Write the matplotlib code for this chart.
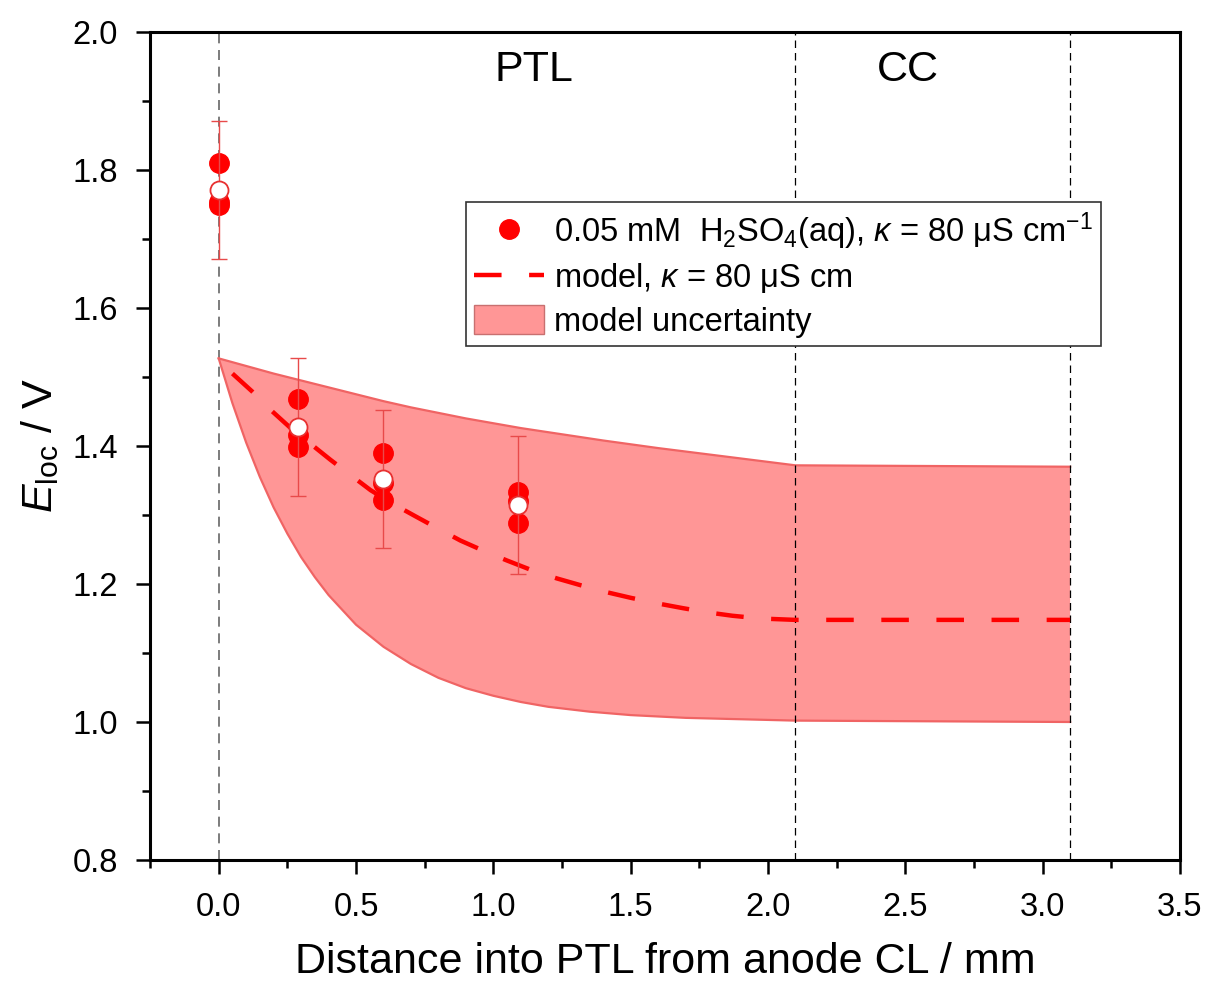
import numpy as np
import matplotlib
matplotlib.use("Agg")
import matplotlib.pyplot as plt
from matplotlib.lines import Line2D
from matplotlib.patches import Patch

plt.rcParams['font.family'] = ['Liberation Sans', 'DejaVu Sans']
plt.rcParams['mathtext.fontset'] = 'custom'
plt.rcParams['mathtext.rm'] = 'Liberation Sans'
plt.rcParams['mathtext.it'] = 'Liberation Sans:italic'

# mesures (3 series) + moyenne
x_meas = [0.0, 0.29, 0.6, 1.09]
run1 = [1.810, 1.468, 1.390, 1.334]
run2 = [1.750, 1.399, 1.322, 1.288]
run3 = [1.753, 1.416, 1.346, 1.320]
mean = [1.771, 1.428, 1.352, 1.314]
err = [0.1, 0.1, 0.1, 0.1]

# modele
x_model = [0.05, 0.122, 0.19, 0.262, 0.335, 0.407, 0.48, 0.553, 0.635, 0.717, 0.80,
           0.880, 0.965, 1.050, 1.14, 1.232, 1.32, 1.414, 1.50, 1.596, 1.69, 1.778,
           1.87, 1.972, 2.10, 3.10]
y_model = [1.505, 1.479, 1.452, 1.426, 1.403, 1.380, 1.358, 1.336, 1.316, 1.298, 1.280,
           1.263, 1.248, 1.234, 1.220, 1.208, 1.198, 1.188, 1.180, 1.172, 1.165, 1.159,
           1.154, 1.150, 1.148, 1.148]

# incertitude du modele
x_up = [0.0, 0.1, 0.2, 0.3, 0.4, 0.5, 0.6, 0.7, 0.8, 0.9, 1.0, 1.1, 1.2, 1.3, 1.4,
        1.6, 1.8, 2.0, 2.1, 3.1]
y_up = [1.527, 1.516, 1.505, 1.495, 1.485, 1.475, 1.465, 1.456, 1.448, 1.440, 1.433,
        1.426, 1.420, 1.414, 1.408, 1.397, 1.387, 1.377, 1.372, 1.370]
x_low = [0.0, 0.05, 0.1, 0.15, 0.2, 0.25, 0.3, 0.35, 0.4, 0.5, 0.6, 0.7, 0.8, 0.9,
         1.0, 1.1, 1.2, 1.35, 1.5, 1.7, 1.9, 2.1, 3.1]
y_low = [1.527, 1.462, 1.405, 1.355, 1.311, 1.273, 1.239, 1.210, 1.184, 1.141, 1.109,
         1.084, 1.064, 1.049, 1.038, 1.029, 1.022, 1.015, 1.010, 1.006, 1.004, 1.002,
         1.000]

fig = plt.figure(figsize=(12.09, 9.86), dpi=100)
ax = fig.add_axes([0.1241, 0.1278, 0.8519, 0.8397])

fill_col = '#ff9696'
edge_col = '#f06464'
red = '#ff0000'

# bande : bord haut + bord bas (retour)
band_x = x_up + x_low[::-1]
band_y = y_up + y_low[::-1]
ax.fill(band_x, band_y, facecolor=fill_col, edgecolor='none', zorder=1)
ax.plot(x_up, y_up, color=edge_col, lw=1.6, zorder=2)
ax.plot(x_low, y_low, color=edge_col, lw=1.6, zorder=2)

# lignes verticales
ax.axvline(0.0, color='#666666', lw=1.2, ls=(0, (6, 4)), zorder=0)
ax.axvline(2.1, color='black', lw=0.9, ls=(0, (6, 4)), zorder=3)
ax.axvline(3.1, color='black', lw=0.9, ls=(0, (6, 4)), zorder=3)

ax.plot(x_model, y_model, color=red, lw=3.2, ls=(0, (6.2, 6.2)), zorder=4)

for r in [run1, run2, run3]:
    ax.plot(x_meas, r, 'o', ms=14, color=red, mec=red, zorder=5)
ax.errorbar(x_meas, mean, yerr=err, fmt='none', ecolor='#e84a4a', elinewidth=1.0,
            capsize=6, capthick=1.0, zorder=6)
ax.plot(x_meas, mean, 'o', ms=13, mfc='white', mec='#e83030', mew=1.3, zorder=7)

ax.text(1.146, 1.945, 'PTL', fontsize=31, ha='center', va='center')
ax.text(2.51, 1.945, 'CC', fontsize=31, ha='center', va='center')

ax.set_xlim(-0.25, 3.5)
ax.set_ylim(0.8, 2.0)
ax.set_xticks(np.arange(0, 3.51, 0.5))
ax.set_xticks(np.arange(-0.25, 3.51, 0.25), minor=True)
ax.set_yticks(np.arange(0.8, 2.01, 0.2))
ax.set_yticks(np.arange(0.8, 2.01, 0.1), minor=True)
ax.xaxis.set_major_formatter(matplotlib.ticker.FormatStrFormatter('%.1f'))
ax.yaxis.set_major_formatter(matplotlib.ticker.FormatStrFormatter('%.1f'))
ax.tick_params(which='major', direction='out', length=10, width=1.8, labelsize=23.5, pad=13)
ax.tick_params(which='minor', direction='out', length=6, width=1.8)
for s in ax.spines.values():
    s.set_linewidth(2.2)

ax.set_xlabel('Distance into PTL from anode CL / mm', fontsize=31, labelpad=14)
ax.set_ylabel(r'$E_{\mathrm{loc}}$ / V', fontsize=31, labelpad=8)

handles = [
    Line2D([], [], marker='o', ls='none', ms=14, color=red),
    Line2D([], [], color=red, lw=3.2, ls=(0, (6.2, 6.2))),
    Patch(facecolor=fill_col, edgecolor='#c87070', lw=1.0),
]
labels = [
    r'0.05 mM  H$_2$SO$_4$(aq), $\kappa$ = 80 $\mathrm{\mu}$S cm$^{-1}$',
    r'model, $\kappa$ = 80 $\mathrm{\mu}$S cm',
    'model uncertainty',
]
leg = ax.legend(handles, labels, loc='upper left', bbox_to_anchor=(0.3068, 0.7947),
                fontsize=23.5, frameon=True, fancybox=False, edgecolor='#333333',
                framealpha=1, borderpad=0.25, handlelength=2.15, handleheight=1.0,
                handletextpad=0.3, labelspacing=0.3, borderaxespad=0)
leg.get_frame().set_linewidth(1.2)

fig.savefig('out.png', dpi=100)
